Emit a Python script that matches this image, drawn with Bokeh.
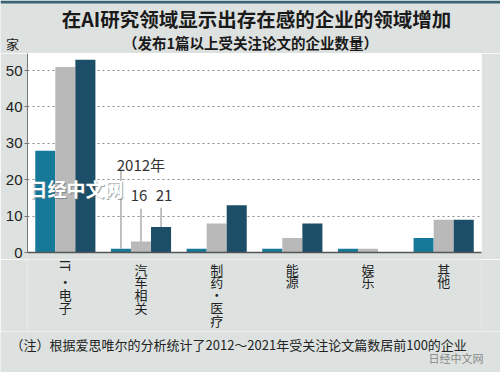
import math
from bokeh.plotting import figure
from bokeh.layouts import column
from bokeh.models import (ColumnDataSource, FactorRange, Range1d, Label,
                          FixedTicker, BoxAnnotation)
from bokeh.transform import dodge
from bokeh.core.properties import value
from bokeh.embed import file_html
from bokeh.resources import INLINE

# ---- data ----
categories = ["IT·电子", "汽车相关", "制药·医疗", "能源", "娱乐", "其他"]
label_chars = [["IT", "·", "电", "子"], ["汽", "车", "相", "关"],
               ["制", "药", "·", "医", "疗"], ["能", "源"], ["娱", "乐"], ["其", "他"]]
y2012 = [28, 1, 1, 1, 1, 4]
y2016 = [51, 3, 8, 4, 1, 9]
y2021 = [53, 7, 13, 8, 0, 9]
y_ticks = [0, 10, 20, 30, 40, 50]

title = "在AI研究领域显示出存在感的企业的领域增加"
subtitle = "（发布1篇以上受关注论文的企业数量）"
unit = "家"
note = "（注）根据爱思唯尔的分析统计了2012～2021年受关注论文篇数居前100的企业"
watermark = "日经中文网"

C2012 = "#17799a"
C2016 = "#b9b9b9"
C2021 = "#1d4e67"
BG = "#dde2e0"
FONT = "Noto Sans CJK SC"
W = 500


def blank_fig(h, x_range, y_range, left=0, right=0, align=True):
    f = figure(width=W, height=h, x_range=x_range, y_range=y_range,
               output_backend="svg", toolbar_location=None,
               x_axis_location=None, y_axis_location=None,
               min_border_left=left, min_border_right=right,
               min_border_top=0, min_border_bottom=0)
    f.grid.visible = False
    f.outline_line_color = None
    f.border_fill_color = BG
    f.background_fill_color = BG
    if not align:
        f.frame_align = False
    return f


# ---- header (page y 0..53) ----
top = blank_fig(53, Range1d(0, W), Range1d(53, 0), align=False)
top.add_layout(BoxAnnotation(top=0, bottom=3, fill_color="#3a6474", fill_alpha=1,
                             line_color=None))
hs = ColumnDataSource(dict(x=[256, 250], y=[18, 42], t=[title, subtitle],
                           s=["19.5px", "14.5px"]))
top.text(x="x", y="y", text="t", source=hs, text_align="center",
         text_baseline="middle", text_font=value(FONT), text_font_size="s",
         text_font_style="bold", text_color="#1a1a1a")
top.text(x=[12], y=[52.5], text=[unit], text_align="center", text_baseline="bottom",
         text_font=value(FONT), text_font_size="13px", text_color="#222222")

# ---- main chart (page y 53..259) ----
p = figure(x_range=FactorRange(*categories), y_range=Range1d(0, 54.7),
           width=W, height=206, output_backend="svg", toolbar_location=None,
           min_border_left=27, min_border_right=19, min_border_top=0,
           min_border_bottom=7)
p.border_fill_color = BG
p.background_fill_color = "white"
p.outline_line_color = None

src = ColumnDataSource(dict(cat=categories, a=y2012, b=y2016, c=y2021))
bw = 0.265
p.vbar(x=dodge("cat", -bw, range=p.x_range), top="a", width=bw, source=src,
       fill_color=C2012, line_color=None)
p.vbar(x=dodge("cat", 0, range=p.x_range), top="b", width=bw, source=src,
       fill_color=C2016, line_color=None)
p.vbar(x=dodge("cat", bw, range=p.x_range), top="c", width=bw, source=src,
       fill_color=C2021, line_color=None)

p.yaxis.ticker = FixedTicker(ticks=y_ticks)
p.yaxis.minor_tick_line_color = None
p.yaxis.major_tick_in = 0
p.yaxis.major_tick_out = 3
p.yaxis.major_label_standoff = 2
p.yaxis.axis_line_color = "#777777"
p.yaxis.major_tick_line_color = "#777777"
p.yaxis.major_label_text_font = "Liberation Sans"
p.yaxis.major_label_text_font_size = "15px"
p.yaxis.major_label_text_color = "#222222"

p.xaxis.major_label_text_alpha = 0
p.xaxis.major_label_text_font_size = "0px"
p.xaxis.major_label_standoff = 0
p.xaxis.major_tick_line_color = None
p.xaxis.major_tick_out = 0
p.xaxis.axis_line_color = "#555555"
p.xaxis.axis_line_width = 1.5

p.xgrid.grid_line_color = None
p.ygrid.ticker = FixedTicker(ticks=y_ticks[1:])
p.ygrid.grid_line_color = "#888888"
p.ygrid.grid_line_dash = "2 3"

ann_cat = categories[1]
idx = categories.index(ann_cat)
for off, lab, ytop, ybot, ty, xo in [(-bw, "2012年", 22.5, y2012[idx], 24.3, 20),
                                     (0, "16", 12, y2016[idx], 15.7, -2),
                                     (bw, "21", 12.3, y2021[idx], 15.7, 3)]:
    s = ColumnDataSource(dict(cat=[ann_cat], y0=[ytop], y1=[ybot], ty=[ty], t=[lab]))
    p.segment(x0=dodge("cat", off, range=p.x_range), y0="y0",
              x1=dodge("cat", off, range=p.x_range), y1="y1",
              source=s, line_color="#999999", line_width=1.2)
    p.text(x=dodge("cat", off, range=p.x_range), y="ty", text="t", source=s,
           x_offset=xo, text_align="center", text_baseline="middle",
           text_font=value(FONT), text_font_size="15px", text_color="#333333")

# watermark over the chart
p.add_layout(Label(x=2, y=63, x_units="screen", y_units="screen", text=watermark,
                   text_font=FONT, text_font_size="19px", text_font_style="bold",
                   text_color="#5a6a70", text_alpha=0.6, text_baseline="middle"))
p.add_layout(Label(x=1, y=64, x_units="screen", y_units="screen", text=watermark,
                   text_font=FONT, text_font_size="19px", text_font_style="bold",
                   text_color="white", text_baseline="middle"))

# ---- vertical category labels (page y 259..331) ----
lab = blank_fig(72, p.x_range, Range1d(331, 259), left=27, right=19)
rows_y = [268.5, 281, 294, 307, 320]
lx, ly, lt, la = [], [], [], []
for cat, chars in zip(categories, label_chars):
    for i, ch in enumerate(chars):
        rotated = ch == "IT"
        lx.append(cat)
        ly.append(265 if rotated else rows_y[i])
        lt.append(ch)
        la.append(-math.pi / 2 if rotated else 0.0)
lsrc = ColumnDataSource(dict(x=lx, y=ly, t=lt, a=la))
lab.text(x="x", y="y", text="t", angle="a", source=lsrc, text_align="center",
         text_baseline="middle", text_font=value(FONT), text_font_size="13px",
         text_color="#222222")

# ---- footer (page y 331..372) ----
foot = blank_fig(41, Range1d(0, W), Range1d(372, 331), align=False)
foot.text(x=[10], y=[344], text=[note], text_align="left", text_baseline="middle",
          text_font=value(FONT), text_font_size="13px", text_color="#222222")
foot.text(x=[428], y=[357], text=[watermark], text_align="left",
          text_baseline="middle", text_font=value(FONT), text_font_size="11px",
          text_color="#444444", text_alpha=0.6)

layout = column(top, p, lab, foot, spacing=0)
open("out.html", "w").write(file_html(layout, INLINE))
